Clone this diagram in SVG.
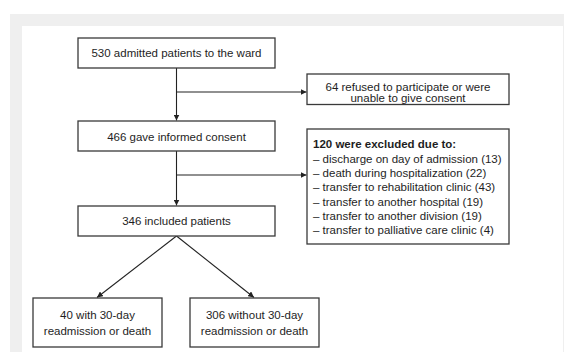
<svg xmlns="http://www.w3.org/2000/svg" width="564" height="352" viewBox="0 0 564 352">
<style>
.box{fill:#fff;stroke:#3a3a3a;stroke-width:1.3}
.t{font-family:"Liberation Sans",Arial,sans-serif;font-size:11.5px;fill:#1e1e1e}
.c{text-anchor:middle}
.b{font-weight:bold}
.ln{fill:none;stroke:#222;stroke-width:1.1}
</style>
<defs>
<marker id="ah" viewBox="0 0 10 10" refX="10" refY="5" markerWidth="6" markerHeight="6" markerUnits="userSpaceOnUse" orient="auto">
<path d="M0,0 L10,5 L0,10 z" fill="#222"/>
</marker>
</defs>
<rect x="10" y="14" width="554" height="338" fill="#efefef"/>
<rect x="22" y="26" width="541" height="326" fill="#fff"/>
<g id="connectors">
<path class="ln" d="M176.5,68 V120.5" marker-end="url(#ah)"/>
<path class="ln" d="M176.5,92 H306.5" marker-end="url(#ah)"/>
<path class="ln" d="M176.5,151 V205.5" marker-end="url(#ah)"/>
<path class="ln" d="M176.5,175 H306.5" marker-end="url(#ah)"/>
<path class="ln" d="M176.5,236 L97,297.5" marker-end="url(#ah)"/>
<path class="ln" d="M176.5,236 L254,297.5" marker-end="url(#ah)"/>
</g>
<g id="n1">
<rect class="box" x="78" y="38" width="197" height="30"/>
<text class="t c" x="176.5" y="57.3">530 admitted patients to the ward</text>
</g>
<g id="n2">
<rect class="box" x="307" y="74" width="202" height="30.5"/>
<text class="t c" x="408" y="90.5">64 refused to participate or were</text>
<text class="t c" x="408" y="102">unable to give consent</text>
</g>
<g id="n3">
<rect class="box" x="78" y="121" width="197" height="30"/>
<text class="t c" x="176.5" y="140.7">466 gave informed consent</text>
</g>
<g id="n4">
<rect class="box" x="307" y="129" width="202" height="115"/>
<text class="t b" x="313" y="148.3">120 were excluded due to:</text>
<text class="t" x="313" y="162.6">– discharge on day of admission (13)</text>
<text class="t" x="313" y="176.9">– death during hospitalization (22)</text>
<text class="t" x="313" y="191.2">– transfer to rehabilitation clinic (43)</text>
<text class="t" x="313" y="205.5">– transfer to another hospital (19)</text>
<text class="t" x="313" y="219.8">– transfer to another division (19)</text>
<text class="t" x="313" y="234.1">– transfer to palliative care clinic (4)</text>
</g>
<g id="n5">
<rect class="box" x="78" y="206" width="197" height="30"/>
<text class="t c" x="176.5" y="224.7">346 included patients</text>
</g>
<g id="n6">
<rect class="box" x="33" y="298" width="129" height="49"/>
<text class="t c" x="97.5" y="319">40 with 30-day</text>
<text class="t c" x="97.5" y="334.5">readmission or death</text>
</g>
<g id="n7">
<rect class="box" x="190" y="298" width="129" height="49"/>
<text class="t c" x="254.5" y="319">306 without 30-day</text>
<text class="t c" x="254.5" y="334.5">readmission or death</text>
</g>
</svg>
